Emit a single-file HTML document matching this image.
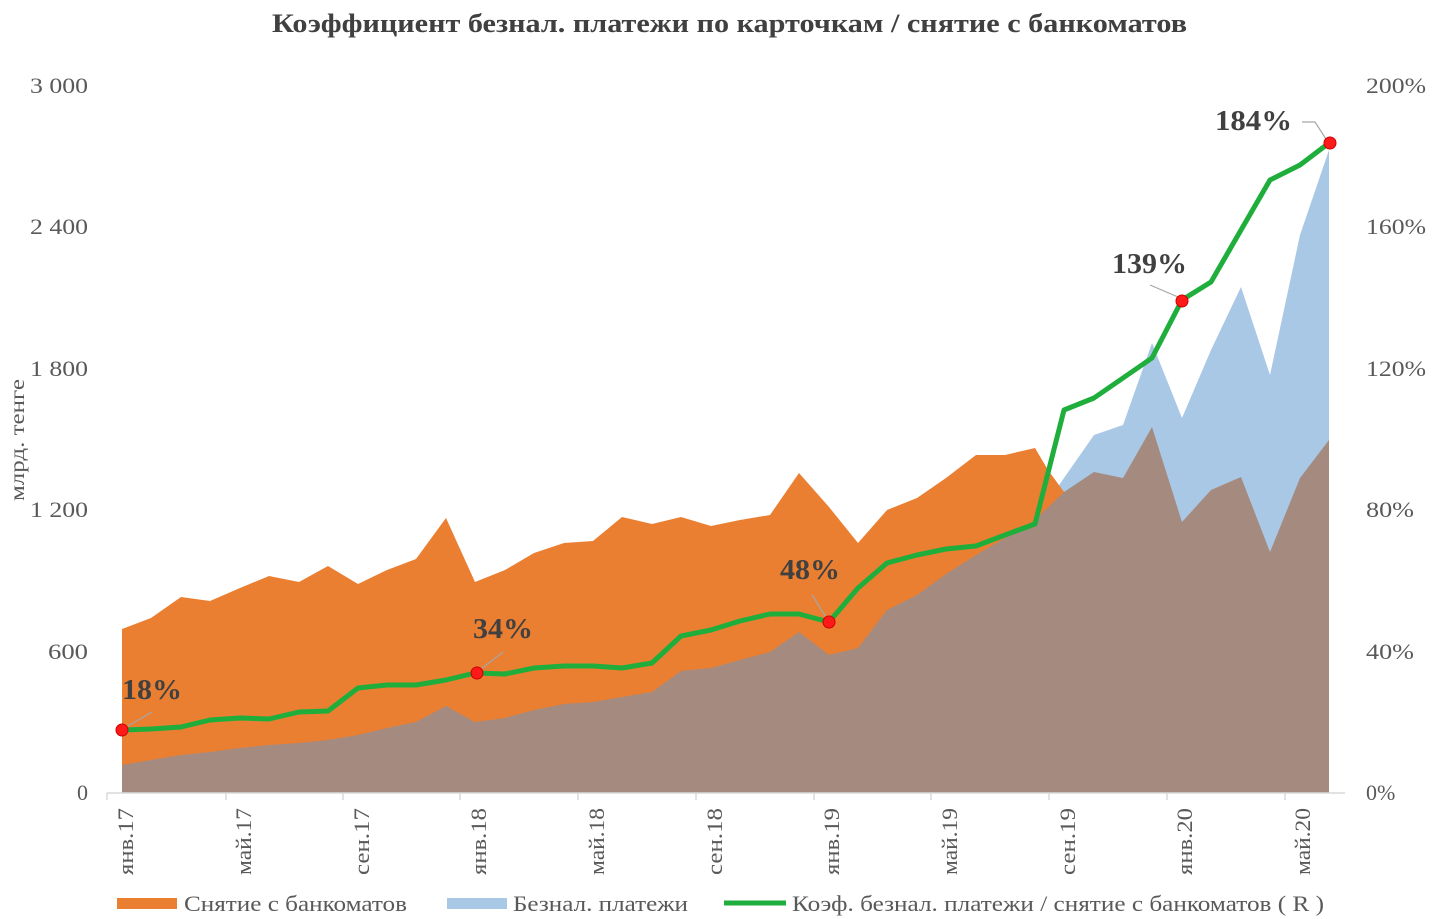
<!DOCTYPE html>
<html><head><meta charset="utf-8"><style>
body{margin:0;background:#fff;}
svg{display:block;font-family:"Liberation Serif",serif;}
</style></head><body>
<svg width="1440" height="919" viewBox="0 0 1440 919">
<text x="272" y="32" textLength="915" lengthAdjust="spacingAndGlyphs" font-size="26" font-weight="bold" fill="#404040">Коэффициент безнал. платежи по карточкам / снятие с банкоматов</text>
<g font-size="22" fill="#595959" text-anchor="end">
<text x="88" y="800">0</text><text x="88" y="659" textLength="40" lengthAdjust="spacingAndGlyphs">600</text><text x="88" y="517" textLength="58" lengthAdjust="spacingAndGlyphs">1 200</text><text x="88" y="376" textLength="58" lengthAdjust="spacingAndGlyphs">1 800</text><text x="88" y="234" textLength="58" lengthAdjust="spacingAndGlyphs">2 400</text><text x="88" y="93" textLength="58" lengthAdjust="spacingAndGlyphs">3 000</text>
</g>
<g font-size="22" fill="#595959">
<text x="1366" y="800">0%</text><text x="1366" y="659" textLength="48" lengthAdjust="spacingAndGlyphs">40%</text><text x="1366" y="517" textLength="48" lengthAdjust="spacingAndGlyphs">80%</text><text x="1366" y="376" textLength="60" lengthAdjust="spacingAndGlyphs">120%</text><text x="1366" y="234" textLength="60" lengthAdjust="spacingAndGlyphs">160%</text><text x="1366" y="93" textLength="60" lengthAdjust="spacingAndGlyphs">200%</text>
</g>
<text transform="translate(24,440) rotate(-90)" text-anchor="middle" font-size="21" fill="#595959" textLength="122" lengthAdjust="spacingAndGlyphs">млрд. тенге</text>
<polygon fill="#a9c8e6" points="122,793 122,765 1035,520 1064,478 1094,435 1123,425 1152,343 1182,418 1211,350 1241,287 1270,375 1300,235 1329,150 1329,793"/>
<polygon fill="#ea7f32" points="122,793 122,629 151,618 181,597 210,601 240,588 269,576 299,582 328,566 358,584 387,570 416,559 446,518 475,582 505,570 534,553 564,543 593,541 622,517 652,524 681,517 711,526 740,520 770,515 799,473 829,507 858,543 887,510 917,498 946,478 976,455 1005,455 1035,448 1048,470 1064,492 1064,793"/>
<polygon fill="#a58b7f" points="122,793 122,765 151,760 181,755 210,752 240,748 269,745 299,743 328,740 358,735 387,728 416,722 446,706 475,722 505,718 534,710 564,704 593,702 622,697 652,692 681,671 711,668 740,660 770,652 799,632 829,655 858,648 887,610 917,595 946,574 976,555 1005,538 1035,520 1064,492 1094,472 1123,478 1152,427 1182,522 1211,490 1241,477 1270,552 1300,478 1329,440 1329,793"/>
<line x1="107" y1="793" x2="1345" y2="793" stroke="#d9d9d9" stroke-width="1.5"/>
<g stroke="#d9d9d9" stroke-width="1.5">
<line x1="107" y1="793" x2="107" y2="800"/><line x1="226" y1="793" x2="226" y2="800"/><line x1="343" y1="793" x2="343" y2="800"/><line x1="460" y1="793" x2="460" y2="800"/><line x1="578" y1="793" x2="578" y2="800"/><line x1="696" y1="793" x2="696" y2="800"/><line x1="814" y1="793" x2="814" y2="800"/><line x1="931" y1="793" x2="931" y2="800"/><line x1="1049" y1="793" x2="1049" y2="800"/><line x1="1167" y1="793" x2="1167" y2="800"/><line x1="1285" y1="793" x2="1285" y2="800"/>
</g>
<g font-size="22" fill="#595959" text-anchor="end">
<text transform="translate(133,808) rotate(-90)" textLength="67" lengthAdjust="spacingAndGlyphs">янв.17</text>
<text transform="translate(251,808) rotate(-90)" textLength="67" lengthAdjust="spacingAndGlyphs">май.17</text>
<text transform="translate(369,808) rotate(-90)" textLength="67" lengthAdjust="spacingAndGlyphs">сен.17</text>
<text transform="translate(486,808) rotate(-90)" textLength="67" lengthAdjust="spacingAndGlyphs">янв.18</text>
<text transform="translate(604,808) rotate(-90)" textLength="67" lengthAdjust="spacingAndGlyphs">май.18</text>
<text transform="translate(722,808) rotate(-90)" textLength="67" lengthAdjust="spacingAndGlyphs">сен.18</text>
<text transform="translate(839,808) rotate(-90)" textLength="67" lengthAdjust="spacingAndGlyphs">янв.19</text>
<text transform="translate(957,808) rotate(-90)" textLength="67" lengthAdjust="spacingAndGlyphs">май.19</text>
<text transform="translate(1075,808) rotate(-90)" textLength="67" lengthAdjust="spacingAndGlyphs">сен.19</text>
<text transform="translate(1192,808) rotate(-90)" textLength="67" lengthAdjust="spacingAndGlyphs">янв.20</text>
<text transform="translate(1310,808) rotate(-90)" textLength="67" lengthAdjust="spacingAndGlyphs">май.20</text>
</g>
<polyline fill="none" stroke="#1fae3c" stroke-width="5" stroke-linejoin="round" stroke-linecap="round" points="122,730 151,729 181,727 210,720 240,718 269,719 299,712 328,711 358,688 387,685 416,685 446,680 475,673 505,674 534,668 564,666 593,666 622,668 652,663 681,636 711,630 740,621 770,614 799,614 829,622 858,588 887,563 917,555 946,549 976,546 1005,535 1035,524 1064,410 1094,398 1123,378 1152,358 1182,300 1211,282 1241,230 1270,180 1300,165 1329,143"/>
<g stroke="#a6a6a6" stroke-width="1.2" fill="none">
<polyline points="128,726 152,712"/><polyline points="481,669 503,652"/><polyline points="826,617 812,595"/><polyline points="1178,297 1150,285"/><polyline points="1326,139 1315,122 1302,122"/>
</g>
<g fill="#ff1a1a" stroke="#cc0000" stroke-width="1">
<circle cx="122" cy="730" r="6"/><circle cx="477" cy="673" r="6"/><circle cx="829" cy="622" r="6"/><circle cx="1182" cy="301" r="6"/><circle cx="1330" cy="143" r="6"/>
</g>
<g font-size="28" font-weight="bold" fill="#404040" lengthAdjust="spacingAndGlyphs">
<text x="122" y="699" textLength="60" lengthAdjust="spacingAndGlyphs">18%</text><text x="473" y="638" textLength="60" lengthAdjust="spacingAndGlyphs">34%</text><text x="780" y="579" textLength="60" lengthAdjust="spacingAndGlyphs">48%</text><text x="1112" y="273" textLength="75" lengthAdjust="spacingAndGlyphs">139%</text><text x="1215" y="130" textLength="77" lengthAdjust="spacingAndGlyphs">184%</text>
</g>
<rect x="117" y="898" width="60" height="11" fill="#ea7f32"/>
<text x="184" y="911" font-size="22" fill="#595959" textLength="223" lengthAdjust="spacingAndGlyphs">Снятие с банкоматов</text>
<rect x="447" y="898" width="60" height="11" fill="#a9c8e6"/>
<text x="513" y="911" font-size="22" fill="#595959" textLength="175" lengthAdjust="spacingAndGlyphs">Безнал. платежи</text>
<line x1="724" y1="903" x2="786" y2="903" stroke="#1fae3c" stroke-width="5"/>
<text x="792" y="911" font-size="22" fill="#595959" textLength="532" lengthAdjust="spacingAndGlyphs">Коэф. безнал. платежи / снятие с банкоматов ( R )</text>
</svg>
</body></html>
